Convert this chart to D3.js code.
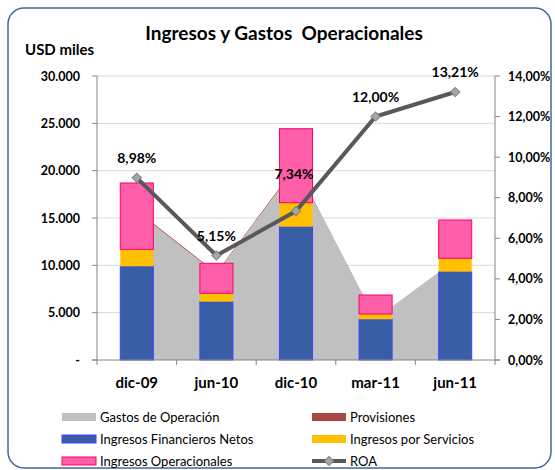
<!DOCTYPE html>
<html><head><meta charset="utf-8">
<script src="https://cdn.jsdelivr.net/npm/d3@7"></script>
<style>body{margin:0;background:#fff;} svg{display:block;font-family:Lato,"Open Sans",sans-serif;}</style>
</head><body><div id="chart"></div>
<script>
const categories = ["dic-09","jun-10","dic-10","mar-11","jun-11"];
const gastosOperacion = [15650, 9100, 20350, 4300, 10600];
const provisiones = [130, 120, 130, 30, 0];
const ingresosFinancierosNetos = [9900, 6160, 14080, 4300, 9330];
const ingresosPorServicios = [1790, 885, 2535, 560, 1410];
const ingresosOperacionales = [7010, 3170, 7815, 2005, 4050];
const roa = [0.0898, 0.0515, 0.0734, 0.1200, 0.1321];
const yTicks = [0, 5000, 10000, 15000, 20000, 25000, 30000];
const y2Ticks = [0, 0.02, 0.04, 0.06, 0.08, 0.10, 0.12, 0.14];
const legendLabels = ["Gastos de Operación","Provisiones","Ingresos Financieros Netos","Ingresos por Servicios","Ingresos Operacionales","ROA"];

const W = 555, H = 470;
const L = 97, R = 495, T = 76, B = 360;
const loc = d3.formatLocale({decimal: ",", thousands: ".", grouping: [3], currency: ["", ""]});
const fmtY = v => v === 0 ? "-" : loc.format(",.0f")(v);
const fmtP = loc.format(".2%");

const svg = d3.select("#chart").append("svg").attr("width", W).attr("height", H);

// border
svg.append("rect").attr("x", 8).attr("y", 8).attr("width", 543).attr("height", 460)
  .attr("rx", 16).attr("fill", "#fff").attr("stroke", "#41689A").attr("stroke-width", 1.5);

const x = d3.scaleBand().domain(categories).range([L, R]);
const cx = c => x(c) + x.bandwidth() / 2;
const bw = x.bandwidth() * 0.415;
const y = d3.scaleLinear().domain([0, 30000]).range([B, T]);
const y2 = d3.scaleLinear().domain([0, 0.14]).range([B, T]);

// title
svg.append("text").attr("x", 284).attr("y", 40).attr("text-anchor", "middle")
  .attr("font-size", 19).attr("font-weight", "bold").attr("fill", "#000").attr("xml:space","preserve")
  .text("Ingresos y Gastos  Operacionales");
svg.append("text").attr("x", 25).attr("y", 55).attr("font-size", 15).attr("font-weight", "bold").text("USD miles");

// grid
svg.append("g").selectAll("line").data(yTicks.filter(d => d > 0)).join("line")
  .attr("x1", L).attr("x2", R).attr("y1", d => y(d)).attr("y2", d => y(d))
  .attr("stroke", "#D9D9D9").attr("stroke-width", 1);

// areas
const rows = categories.map((c, i) => ({c, g: gastosOperacion[i], p: provisiones[i]}));
svg.append("path").datum(rows)
  .attr("d", d3.area().x(d => cx(d.c)).y0(d => y(d.g)).y1(d => y(d.g + d.p)))
  .attr("fill", "#AA4643");
svg.append("path").datum(rows)
  .attr("d", d3.area().x(d => cx(d.c)).y0(y(0)).y1(d => y(d.g)))
  .attr("fill", "#C0C0C0");

// stacked bars
const keys = ["fin", "serv", "oper"];
const barRows = categories.map((c, i) => ({c, fin: ingresosFinancierosNetos[i], serv: ingresosPorServicios[i], oper: ingresosOperacionales[i]}));
const stack = d3.stack().keys(keys)(barRows);
const fills = {fin: "#385FA6", serv: "#FFC000", oper: "#FF5EA8"};
const strokes = {fin: "#4040FF", serv: "none", oper: "#FF0066"};
stack.forEach(s => {
  svg.append("g").selectAll("rect").data(s).join("rect")
    .attr("x", d => cx(d.data.c) - bw / 2).attr("width", bw)
    .attr("y", d => y(d[1])).attr("height", d => y(d[0]) - y(d[1]))
    .attr("fill", fills[s.key]).attr("stroke", strokes[s.key]).attr("stroke-width", 1);
});

// axes
const axG = svg.append("g").attr("stroke", "#868686").attr("stroke-width", 1).attr("fill", "none");
axG.append("line").attr("x1", L).attr("x2", L).attr("y1", T).attr("y2", B + 5);
axG.append("line").attr("x1", R).attr("x2", R).attr("y1", T).attr("y2", B + 5);
axG.append("line").attr("x1", L - 5).attr("x2", R + 5).attr("y1", B).attr("y2", B);
axG.selectAll(".tl").data(yTicks).join("line").attr("x1", L - 5).attr("x2", L).attr("y1", d => y(d)).attr("y2", d => y(d));
axG.selectAll(".tr").data(y2Ticks).join("line").attr("x1", R).attr("x2", R + 5).attr("y1", d => y2(d)).attr("y2", d => y2(d));
axG.selectAll(".tb").data(categories.slice(1)).join("line").attr("x1", d => x(d)).attr("x2", d => x(d)).attr("y1", B).attr("y2", B + 5);

svg.append("g").selectAll("text").data(yTicks).join("text")
  .attr("x", 80).attr("y", d => y(d) + 4.5).attr("text-anchor", "end")
  .attr("font-size", 12.5).attr("font-weight", "bold").text(fmtY);
svg.append("g").selectAll("text").data(y2Ticks).join("text")
  .attr("x", 508).attr("y", d => y2(d) + 4.5)
  .attr("font-size", 12.5).attr("font-weight", "bold").text(fmtP);
svg.append("g").selectAll("text").data(categories).join("text")
  .attr("x", d => cx(d)).attr("y", 388).attr("text-anchor", "middle")
  .attr("font-size", 15).attr("font-weight", "bold").text(d => d);

// ROA line
const roaRows = categories.map((c, i) => ({c, v: roa[i]}));
svg.append("path").datum(roaRows)
  .attr("d", d3.line().x(d => cx(d.c)).y(d => y2(d.v)))
  .attr("fill", "none").attr("stroke", "#595959").attr("stroke-width", 4);
const marker = d3.symbol().type(d3.symbolSquare).size(42);
svg.append("g").selectAll("path").data(roaRows).join("path")
  .attr("d", marker).attr("transform", d => `translate(${cx(d.c)},${y2(d.v)}) rotate(45)`)
  .attr("fill", "#A6A6A6").attr("stroke", "#7F7F7F").attr("stroke-width", 1);
svg.append("g").selectAll("text").data(roaRows).join("text")
  .attr("x", (d, i) => cx(d.c) - (i === 2 ? 2 : 0))
  .attr("y", (d, i) => y2(d.v) - (i === 2 ? 32 : 15))
  .attr("text-anchor", "middle").attr("font-size", 14).attr("font-weight", "bold")
  .text(d => fmtP(d.v));

// legend
const lg = svg.append("g");
const legendPos = [[62, 417], [312, 417], [62, 439], [312, 439], [62, 461], [312, 461]];
const legendFill = ["#C0C0C0", "#AA4643", "#385FA6", "#FFC000", "#FF5EA8", null];
const legendStroke = ["none", "none", "#4040FF", "none", "#FF0066", null];
legendLabels.forEach((lab, i) => {
  const [lx, ly] = legendPos[i];
  if (legendFill[i]) {
    lg.append("rect").attr("x", lx).attr("y", ly - 4).attr("width", 34).attr("height", 8)
      .attr("fill", legendFill[i]).attr("stroke", legendStroke[i]);
  } else {
    lg.append("line").attr("x1", lx).attr("x2", lx + 34).attr("y1", ly).attr("y2", ly)
      .attr("stroke", "#595959").attr("stroke-width", 4);
    lg.append("path").attr("d", marker).attr("transform", `translate(${lx + 17},${ly}) rotate(45)`)
      .attr("fill", "#A6A6A6").attr("stroke", "#7F7F7F");
  }
  lg.append("text").attr("x", lx + 38).attr("y", ly + 4.5).attr("font-size", 13).text(lab);
});
</script></body></html>
